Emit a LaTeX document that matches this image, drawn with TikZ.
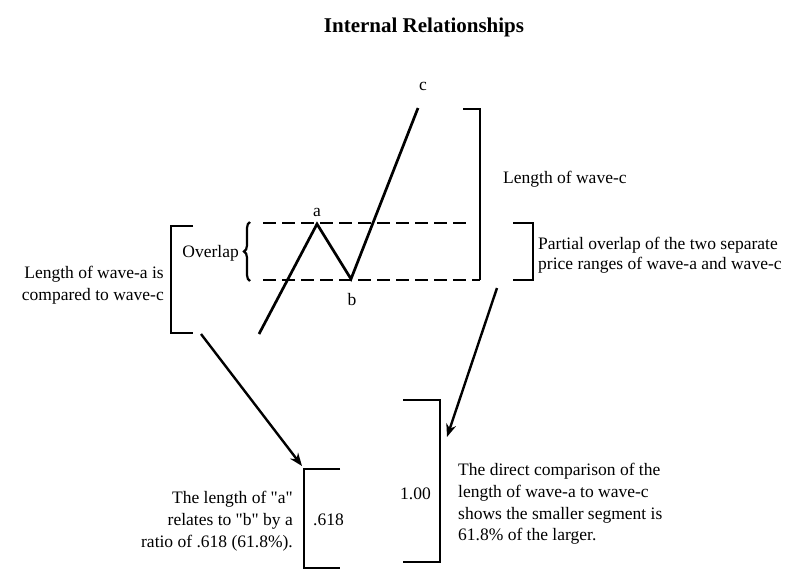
\documentclass[tikz,border=0pt]{standalone}
\usepackage{fontspec}
\setmainfont{Liberation Serif}[Ligatures=TeXOff]
\usetikzlibrary{arrows.meta,decorations.pathreplacing}
\begin{document}
\begin{tikzpicture}[x=1pt,y=-1pt,
  txt/.style={inner sep=0pt,font=\fontsize{17.5}{22}\selectfont},
  wave/.style={line width=2.7pt,line join=miter},
  bracketline/.style={line width=2pt},
  dashline/.style={line width=2.4pt,dash pattern=on 13pt off 6pt},
  arr/.style={line width=2.4pt,-{Stealth[length=13pt,width=10pt]}}]
\useasboundingbox (0,0) rectangle (807,571);
% title
\node[inner sep=0pt,anchor=base,font=\fontsize{21}{25}\selectfont\bfseries] (title) at (424,32) {Internal Relationships};
% wave points
\coordinate (w0) at (259,334);
\coordinate (wa) at (317,224);
\coordinate (wb) at (351,279);
\coordinate (wc) at (418,108);
\draw[wave] (w0) -- (wa) -- (wb) -- (wc);
\node[txt,anchor=base] (la) at (317,216) {a};
\node[txt,anchor=base] (lb) at (352,305) {b};
\node[txt,anchor=base] (lc) at (423,90) {c};
% dashed overlap lines
\coordinate (d1s) at (263,223); \coordinate (d1e) at (466,223);
\coordinate (d2s) at (263,280); \coordinate (d2e) at (480,280);
\draw[dashline] (d1s) -- (d1e);
\draw[dashline] (d2s) -- (d2e);
% big bracket for wave-c
\coordinate (bc1) at (463,109); \coordinate (bc2) at (480,109);
\draw[bracketline] (bc1) -- (bc2) -- (d2e);
\node[txt,anchor=base west] (lenc) at (503,183) {Length of wave-c};
% overlap brace
\draw[line width=2.2pt,decorate,decoration={brace,amplitude=6pt}] (250,281) -- (250,222);
\node[txt,anchor=base east] (ovl) at (239,257) {Overlap};
% partial overlap bracket
\coordinate (po1) at (513,223); \coordinate (po2) at (533,223);
\coordinate (po3) at (533,280); \coordinate (po4) at (513,280);
\draw[bracketline] (po1) -- (po2) -- (po3) -- (po4);
\node[txt,anchor=north west,align=left,font=\fontsize{17.5}{20.5}\selectfont] (ptxt) at (538,236.5) {Partial overlap of the two separate\\price ranges of wave-a and wave-c};
% left bracket wave-a
\coordinate (lb1) at (193,226); \coordinate (lb2) at (171,226);
\coordinate (lb3) at (171,333); \coordinate (lb4) at (193,333);
\draw[bracketline] (lb1) -- (lb2) -- (lb3) -- (lb4);
\node[txt,anchor=north east,align=right] (atxt) at (164,266) {Length of wave-a is\\compared to wave-c};
% .618 bracket
\coordinate (s1) at (340,469); \coordinate (s2) at (304,469);
\coordinate (s3) at (304,568); \coordinate (s4) at (340,568);
\draw[bracketline] (s1) -- (s2) -- (s3) -- (s4);
\node[txt,anchor=base west] (v618) at (313,525) {.618};
\node[txt,anchor=north east,align=right] (rtxt) at (293,491) {The length of "a"\\relates to "b" by a\\ratio of .618 (61.8\%).};
% 1.00 bracket
\coordinate (o1) at (403,400); \coordinate (o2) at (440,400);
\coordinate (o3) at (440,562); \coordinate (o4) at (403,562);
\draw[bracketline] (o1) -- (o2) -- (o3) -- (o4);
\node[txt,anchor=base east] (v100) at (431,499) {1.00};
\node[txt,anchor=north west,align=left,font=\fontsize{17.5}{21.8}\selectfont] (dtxt) at (458,463) {The direct comparison of the\\length of wave-a to wave-c\\shows the smaller segment is\\61.8\% of the larger.};
% arrows
\coordinate (a1s) at (201,334); \coordinate (a1e) at (302,466);
\coordinate (a2s) at (497,288); \coordinate (a2e) at (447,437);
\draw[arr] (a1s) -- (a1e);
\draw[arr] (a2s) -- (a2e);
\end{tikzpicture}
\end{document}
